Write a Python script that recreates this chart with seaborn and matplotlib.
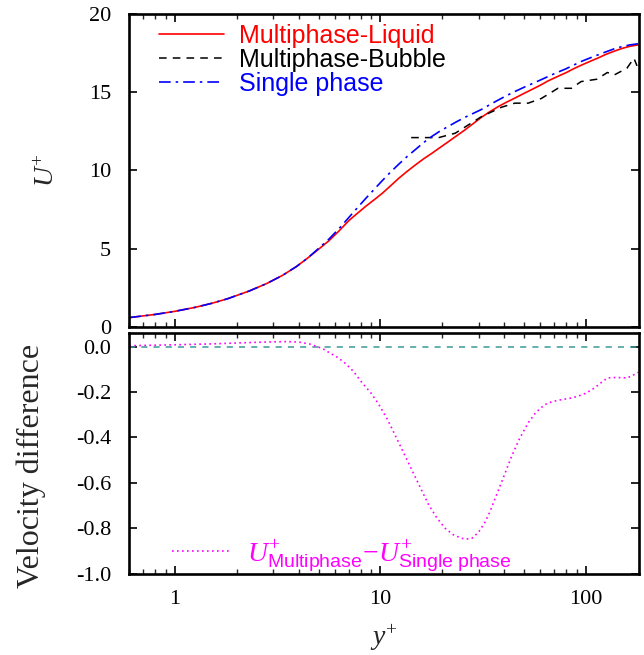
import numpy as np
import pandas as pd
import matplotlib
matplotlib.use("Agg")
import matplotlib.pyplot as plt
import matplotlib.ticker as mticker
import seaborn as sns

# ---------------- data ----------------
yplus_main = [0.6, 0.8, 1.0, 1.25, 1.5, 1.8, 2.3, 2.8, 3.34, 3.9, 4.4, 4.93,
              5.6, 6.3, 7.02, 7.7, 8.46, 9.3, 10.2, 11.2, 12.27, 13.5, 14.77,
              16.2, 17.8, 19.5, 21.4, 23.5, 25.8, 28.3, 31.0, 34.0, 37.4, 41.0,
              45.0, 50.0, 55.0, 60.0, 65.3, 72.0, 80.0, 87.0, 94.6, 105.0,
              115.0, 125.0, 137.0, 150.0, 163.0, 180.0]
u_single = [0.6, 0.8, 1.0, 1.25, 1.5, 1.8, 2.3, 2.78, 3.3, 3.86, 4.38, 4.95,
            5.6, 6.3, 7.0, 7.6, 8.2, 8.78, 9.35, 9.9, 10.4, 10.9, 11.33,
            11.78, 12.18, 12.52, 12.82, 13.12, 13.4, 13.65, 13.9, 14.2, 14.5,
            14.78, 15.04, 15.32, 15.56, 15.78, 16.0, 16.25, 16.5, 16.73, 16.96,
            17.2, 17.4, 17.58, 17.77, 17.92, 18.02, 18.1]
u_liquid = [0.6, 0.8, 1.0, 1.25, 1.5, 1.8, 2.3, 2.78, 3.3, 3.86, 4.38, 4.9,
            5.5, 6.15, 6.8, 7.25, 7.7, 8.12, 8.54, 9.02, 9.5, 9.95, 10.35,
            10.74, 11.1, 11.47, 11.84, 12.22, 12.6, 13.0, 13.4, 13.75, 14.08,
            14.36, 14.62, 14.93, 15.2, 15.45, 15.72, 15.98, 16.25, 16.5, 16.72,
            16.98, 17.2, 17.42, 17.62, 17.8, 17.93, 18.03]

yplus_bubble = [14.1, 19.2, 23.1, 31.0, 38.8, 45.0, 52.3, 60.6, 73.0, 84.9,
                94.6, 113.0, 127.0, 137.0, 158.0, 171.0, 177.0]
u_bubble = [12.1, 12.1, 12.38, 13.44, 14.04, 14.3, 14.3, 14.6, 15.25, 15.25,
            15.68, 15.83, 16.26, 16.1, 16.53, 17.17, 16.68]

yplus_diff = [0.6, 1.0, 1.5, 2.0, 2.5, 3.0, 3.5, 4.0, 4.5, 5.0, 5.3, 5.62,
              6.2, 6.77, 7.4, 8.15, 9.0, 9.83, 10.8, 11.82, 13.0, 14.2, 15.6,
              17.1, 18.8, 20.6, 22.5, 24.8, 26.2, 27.8, 30.0, 32.2, 34.0, 36.0,
              39.5, 43.4, 47.5, 52.2, 57.0, 62.9, 68.0, 75.7, 83.0, 91.2,
              100.0, 110.0, 118.0, 127.0, 140.0, 158.5, 170.0, 180.0]
u_diff = [0.004, 0.008, 0.012, 0.016, 0.019, 0.021, 0.022, 0.02, 0.012,
          -0.002, -0.012, -0.026, -0.048, -0.075, -0.11, -0.16, -0.205,
          -0.256, -0.32, -0.393, -0.47, -0.543, -0.62, -0.695, -0.755, -0.80,
          -0.828, -0.845, -0.848, -0.845, -0.818, -0.775, -0.73, -0.672,
          -0.58, -0.484, -0.405, -0.337, -0.29, -0.256, -0.243, -0.234,
          -0.228, -0.219, -0.205, -0.182, -0.16, -0.138, -0.136, -0.138,
          -0.125, -0.113]
zero_ref = 0.0

labels_main = ["Multiphase-Liquid", "Multiphase-Bubble", "Single phase"]
diff_label = (r"$U^{+}_{\mathsf{Multiphase}}\!-\!U^{+}_{\mathsf{Single\ phase}}$")
xticks = [1, 10, 100]
xticklabels = ["1", "10", "100"]
yticks_top = [0, 5, 10, 15, 20]
yticks_bot = [-1.0, -0.8, -0.6, -0.4, -0.2, 0.0]
yticklabels_bot = ["-1.0", "-0.8", "-0.6", "-0.4", "-0.2", "0.0"]

# ---------------- style ----------------
sns.set_style("ticks")
plt.rcParams["font.family"] = ["Liberation Serif", "DejaVu Serif"]
plt.rcParams["axes.unicode_minus"] = False
plt.rcParams["mathtext.fontset"] = "custom"
plt.rcParams["mathtext.rm"] = "Liberation Serif"
plt.rcParams["mathtext.it"] = "Liberation Serif:italic"
plt.rcParams["mathtext.sf"] = "Liberation Sans"

fig = plt.figure(figsize=(6.44, 6.55), dpi=100)
ax1 = fig.add_axes([0.2008, 0.5008, 0.7907, 0.4779])
ax2 = fig.add_axes([0.2008, 0.1244, 0.7907, 0.3679])

df_l = pd.DataFrame({"yplus": yplus_main, "U": u_liquid})
df_s = pd.DataFrame({"yplus": yplus_main, "U": u_single})
df_b = pd.DataFrame({"yplus": yplus_bubble, "U": u_bubble})
df_d = pd.DataFrame({"yplus": yplus_diff, "dU": u_diff})

sns.lineplot(data=df_l, x="yplus", y="U", ax=ax1, color="#ff0000", lw=1.2,
             label=labels_main[0], sort=False)
sns.lineplot(data=df_b, x="yplus", y="U", ax=ax1, color="black", lw=1.1,
             label=labels_main[1], sort=False, linestyle=(0, (5, 4)))
sns.lineplot(data=df_s, x="yplus", y="U", ax=ax1, color="#0000ff", lw=1.2,
             label=labels_main[2], sort=False, linestyle=(0, (7, 3, 1.5, 3)))

ax2.axhline(zero_ref, color="#3a9a9a", lw=1.1, linestyle=(0, (4, 4)))
sns.lineplot(data=df_d, x="yplus", y="dU", ax=ax2, color="#ff00ff", lw=1.2,
             label=diff_label, sort=False, linestyle=(0, (1, 2)))

for ax in (ax1, ax2):
    ax.set_xscale("log")
    ax.set_xlim(0.6, 180)
    ax.set_xticks(xticks)
    ax.xaxis.set_minor_locator(mticker.LogLocator(base=10, subs=np.arange(2, 10)))
    ax.xaxis.set_minor_formatter(mticker.NullFormatter())
    ax.tick_params(axis="both", which="major", direction="in", length=6,
                   width=1.2, top=True, right=True, labelsize=16,
                   colors="black")
    ax.tick_params(axis="y", which="major", pad=13)
    ax.tick_params(axis="x", which="major", pad=12)
    ax.tick_params(axis="x", which="minor", direction="in", length=3.5,
                   width=1.0, top=True, bottom=True)
    for sp in ax.spines.values():
        sp.set_linewidth(1.9)
        sp.set_color("black")
    ax.set_xlabel("")

ax1.set_ylim(0, 20)
ax1.set_yticks(yticks_top)
ax1.set_yticklabels([str(v) for v in yticks_top])
ax1.tick_params(axis="x", labelbottom=False)
ax1.set_ylabel(r"$U^{+}$", fontsize=20)
ax1.yaxis.set_label_coords(-0.136, 0.5)

ax2.set_ylim(-1.0, 0.062)
ax2.set_yticks(yticks_bot)
ax2.set_yticklabels(yticklabels_bot)
ax2.set_xticklabels(xticklabels)
ax2.set_ylabel("Velocity difference", fontsize=23)
ax2.yaxis.set_label_coords(-0.163, 0.447)
ax2.set_xlabel(r"$y^{+}$", fontsize=20, labelpad=10)

leg1 = ax1.legend(loc="upper left", bbox_to_anchor=(0.058, 0.968), frameon=False,
                  handlelength=2.6, handletextpad=0.6, labelspacing=0.0,
                  borderaxespad=0.0, borderpad=0.0,
                  prop={"family": "Liberation Sans", "size": 18},
                  labelcolor="linecolor")

leg2 = ax2.legend(loc="lower left", bbox_to_anchor=(0.084, 0.0), frameon=False,
                  handlelength=2.16, handletextpad=0.55, borderaxespad=0.0,
                  borderpad=0.0, prop={"size": 20}, labelcolor="linecolor")

fig.savefig("out.png", dpi=100)
